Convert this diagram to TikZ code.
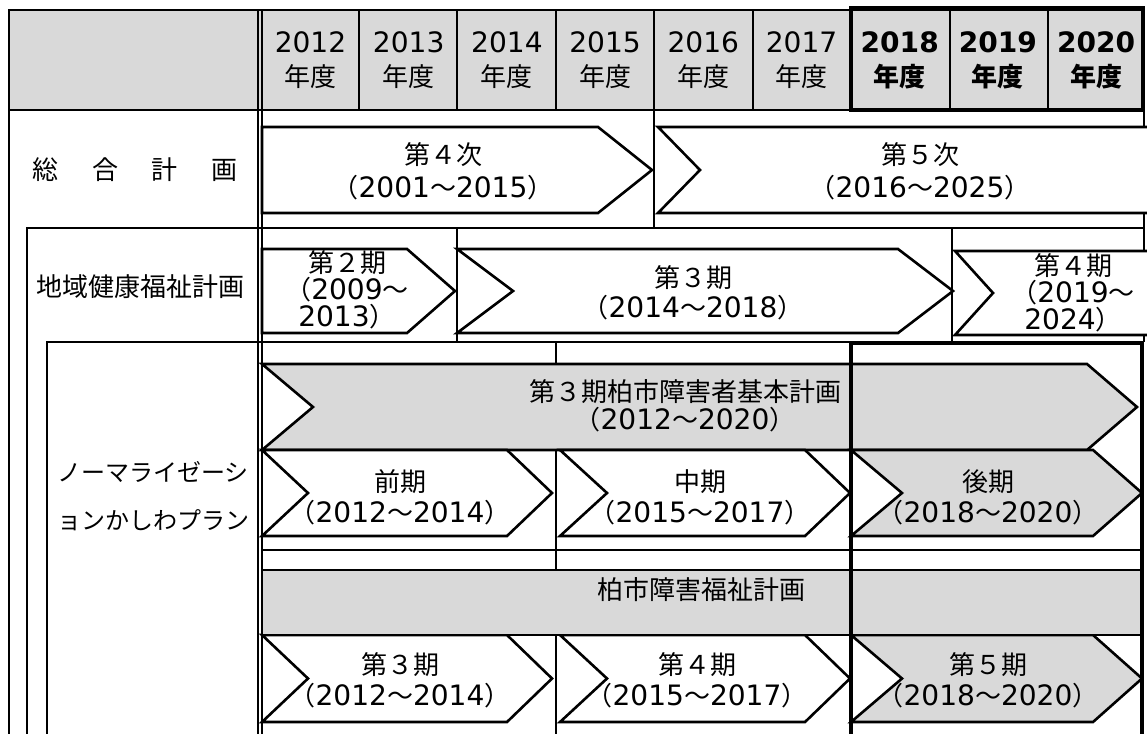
\documentclass[tikz,border=0pt]{standalone}
\usepackage{fontspec}
\setmainfont{Noto Sans CJK JP}
\newfontfamily\numfont{DejaVu Sans}[Scale=1.08]
\newcommand{\nm}[1]{{\numfont #1}}
\usepackage{tikz}
\definecolor{cellgray}{RGB}{217,217,217}

\begin{document}
\begin{tikzpicture}[x=1pt,y=-1pt]
			\tikzset{grid line/.style={line width=1.5pt},
				chevron line/.style={line width=2.6pt,line join=miter},
				frame line/.style={line width=3.4pt},
				txt/.style={inner sep=0pt,align=center,font=\fontsize{26}{#1}\selectfont},
				txt/.default=31}
			\useasboundingbox (0,0) rectangle (1147,733);
			\clip (0,0) rectangle (1147,733);
			\fill[cellgray] (9,10) rectangle (1144,110);
			\draw[grid line] (9,740) -- (9,10) -- (1144,10) -- (1144,342);
			\draw[grid line] (9,110) -- (1144,110);
			\draw[grid line] (27,740) -- (27,228) -- (1144,228);
			\draw[grid line] (47,740) -- (47,342) -- (1144,342);
			\draw[grid line] (258,10) -- (258,740) (262,10) -- (262,740);
			\foreach \x in {359,457,556,654,753,950,1048}
				\draw[grid line] (\x,10) -- (\x,110);
			\draw[grid line] (654,110) -- (654,228);
			\draw[grid line] (457,228) -- (457,342) (952,228) -- (952,342);
			\draw[grid line] (556,342) -- (556,740);
			\draw[grid line] (262,550) -- (1142,550);
			\foreach \xa/\xn/\xs/\xt/\ya/\yb/\col in {262/262/598/652/127/213/white, 658/700/1200/1260/127/213/white,
				262/262/407/455/249/333/white, 457/513/898/953/249/333/white, 955/993/1200/1260/251/335/white,
				262/313/1087/1137/364/450/cellgray,
				262/308/507/552/450/536/white, 560/607/805/850/450/536/white, 851/902/1093/1142/450/536/cellgray,
				262/308/507/552/635/722/white, 560/607/805/850/635/722/white, 851/902/1093/1142/635/722/cellgray}
				\filldraw[chevron line,fill=\col] (\xa,\ya) -- (\xs,\ya) -- (\xt,{(\ya+\yb)/2}) -- (\xs,\yb) -- (\xa,\yb) -- (\xn,{(\ya+\yb)/2}) -- cycle;
			\filldraw[chevron line,fill=cellgray] (262,570) rectangle (1142,635);
			\foreach \yr [count=\i from 0] in {2012,2013,2014,2015,2016,2017}
				\node[txt=34] (year\yr) at ({310.5+98.2*\i},60) {\nm{\yr}\\年度};
			\foreach \yr [count=\i from 6] in {2018,2019,2020}
				\node[txt=34] (year\yr) at ({310.5+98.2*\i},60) {\bfseries\nm{\yr}\\\bfseries 年度};
			\node[txt] (sogo) at (135,170) {総\hspace{1.3em}合\hspace{1.3em}計\hspace{1.3em}画};
			\node[txt] (chiiki) at (140,287) {地域健康福祉計画};
			\node[txt,font=\fontsize{24}{48}\selectfont,align=left] (norma) at (153,496) {ノーマライゼーシ\\ョンかしわプラン};
			\node[txt=33] (plan4) at (443,171) {第４次\\（\nm{2001}～\nm{2015}）};
			\node[txt=33] (plan5) at (920,171) {第５次\\（\nm{2016}～\nm{2025}）};
			\node[txt=27] (chiiki2) at (347,290) {第２期\\（\nm{2009}～\\\nm{2013}）};
			\node[txt=30] (chiiki3) at (693,293) {第３期\\（\nm{2014}～\nm{2018}）};
			\node[txt=27] (chiiki4) at (1073,293) {第４期\\（\nm{2019}～\\\nm{2024}）};
			\node[txt=28] (kihon) at (685,406) {第３期柏市障害者基本計画\\（\nm{2012}～\nm{2020}）};
			\node[txt] (zenki) at (400,497) {前期\\（\nm{2012}～\nm{2014}）};
			\node[txt] (chuki) at (700,497) {中期\\（\nm{2015}～\nm{2017}）};
			\node[txt] (koki) at (988,497) {後期\\（\nm{2018}～\nm{2020}）};
			\node[txt] (fukushi) at (701,590) {柏市障害福祉計画};
			\node[txt] (fukushi3) at (400,680) {第３期\\（\nm{2012}～\nm{2014}）};
			\node[txt] (fukushi4) at (697,680) {第４期\\（\nm{2015}～\nm{2017}）};
			\node[txt] (fukushi5) at (988,680) {第５期\\（\nm{2018}～\nm{2020}）};
			\draw[frame line] (851,8) rectangle (1143,110);
			\draw[frame line] (851,343) rectangle (1142,745);
		\end{tikzpicture}
\end{document}
